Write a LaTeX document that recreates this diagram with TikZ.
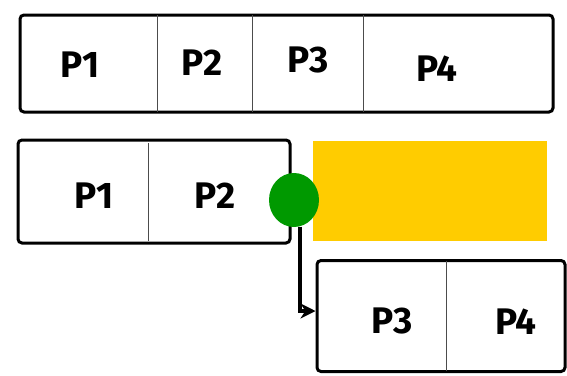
\documentclass[tikz,border=0pt]{standalone}
\usepackage{fontspec}
\setsansfont{Fira Sans}
\usetikzlibrary{positioning,arrows.meta,calc,shapes.geometric}
\definecolor{dotgreen}{HTML}{009900}
\definecolor{freeyellow}{HTML}{FFCC00}
\tikzset{
  frame/.style={draw,line width=3pt,rounded corners=4pt,inner sep=0pt},
  divider/.style={draw=black!70,line width=0.8pt},
  part/.style={font=\sffamily\bfseries\fontsize{37}{42}\selectfont,inner sep=0pt},
  link/.style={draw,line width=4pt,-{Stealth[length=15pt,width=15pt]}},
}

\begin{document}
\begin{tikzpicture}[x=1pt,y=-1pt]
\useasboundingbox (0,0) rectangle (567,375);

% whole region
\node[frame,minimum width=533,minimum height=97] (whole) at (286.5,63.5) {};
\draw[divider] (157,15) -- (157,112);
\draw[divider] (252,15) -- (252,112);
\draw[divider] (363,15) -- (363,112);
\node[part] (w1) at (80,65) {P1};
\node[part] (w2) at (202,63) {P2};
\node[part] (w3) at (308,60) {P3};
\node[part] (w4) at (437,69) {P4};

% first half
\node[frame,minimum width=272,minimum height=103] (left) at (154,191.5) {};
\draw[divider] (148,143) -- (148,241);
\node[part] (l1) at (94,196) {P1};
\node[part] (l2) at (215,196) {P2};

% freed space
\node[fill=freeyellow,minimum width=234,minimum height=100,inner sep=0pt] (free) at (430,191) {};

% second half
\node[frame,minimum width=248,minimum height=111] (right) at (441,316) {};
\draw[divider] (446,261) -- (446,371);
\node[part] (r3) at (392,321) {P3};
\node[part] (r4) at (516,322) {P4};

% split point
\node[ellipse,fill=dotgreen,minimum width=50,minimum height=54,inner sep=0pt] (cut) at (294,200) {};
\path[link] (cut.-78) |- ([yshift=5pt]right.west);
\end{tikzpicture}
\end{document}
